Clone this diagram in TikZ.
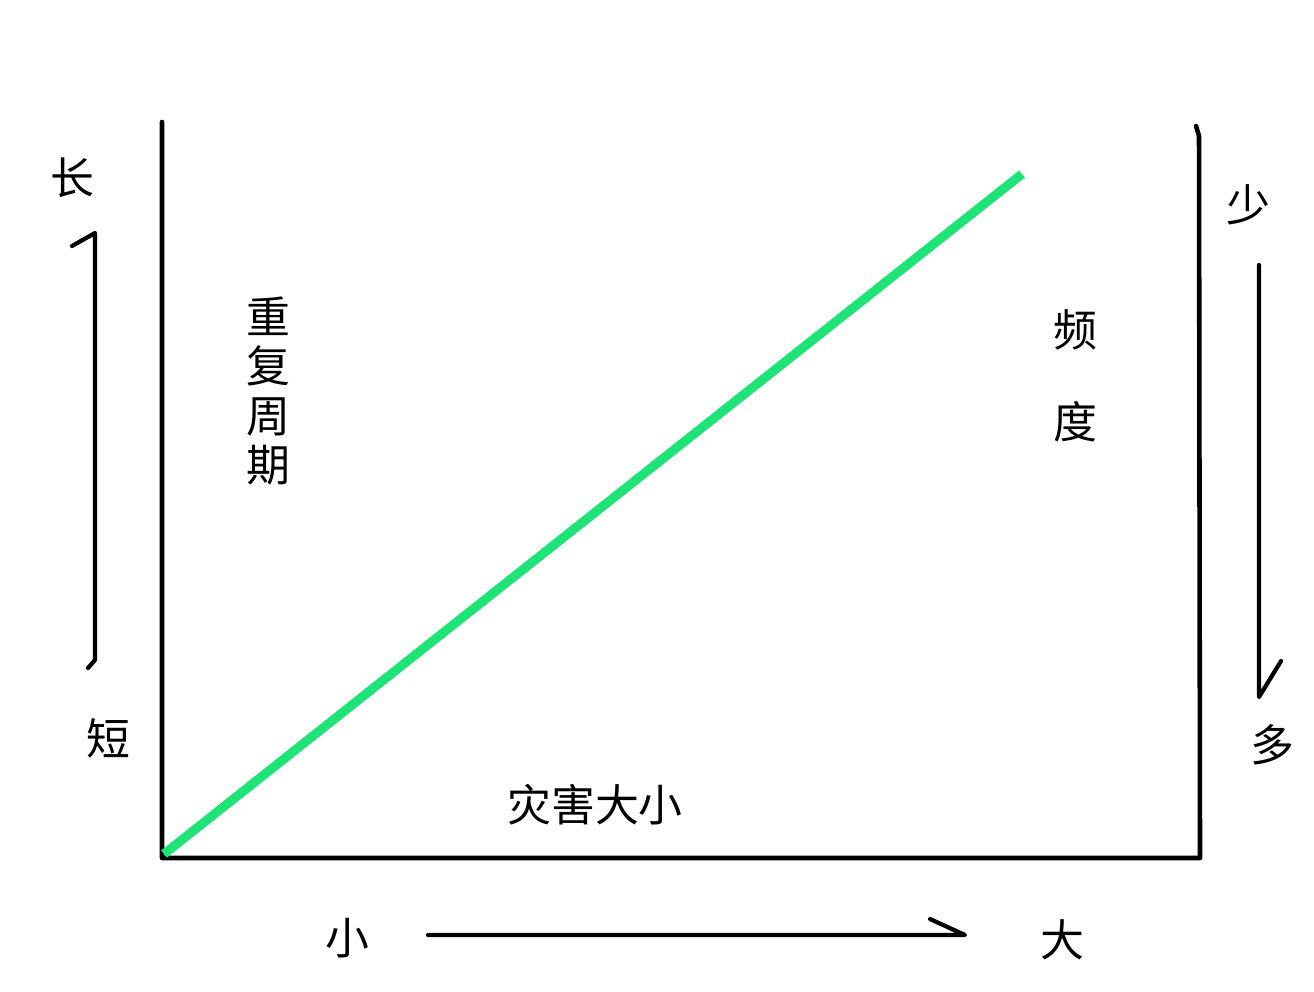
\documentclass[tikz,border=0pt]{standalone}
\usepackage{fontspec}
\newfontfamily\cjk{Noto Sans CJK SC}
\definecolor{lgreen}{RGB}{30,228,120}
\begin{document}
\begin{tikzpicture}[x=0.02cm,y=-0.02cm,
  thin/.style={line width=2.4pt, black, line cap=round, line join=round},
  lbl/.style={font=\cjk\fontsize{25}{27}\selectfont, inner sep=0pt}]
\useasboundingbox[fill=white] (0,0) rectangle (1314,991);
% axes
\coordinate (tl) at (162,122);
\coordinate (bl) at (162,858);
\coordinate (br) at (1200,858);
\coordinate (tr) at (1196,126);
\draw[thin, line width=2.6pt] (tl) -- (bl) -- (br) -- (1199,136) -- (tr);
% green line
\coordinate (g0) at (164,854);
\coordinate (g1) at (1022,174);
\draw[lgreen, line width=5.2pt] (g0) -- (g1);
% left bracket
\coordinate (lb0) at (72,246);
\coordinate (lb1) at (95,233);
\coordinate (lb2) at (95,660);
\coordinate (lb3) at (88,668);
\draw[thin] (lb0) -- (lb1) -- (lb2) -- (lb3);
% right arrow
\coordinate (ra0) at (1259,265);
\coordinate (ra1) at (1259,697);
\coordinate (ra2) at (1281,661);
\draw[thin] (ra0) -- (ra1) -- (ra2);
% bottom arrow
\coordinate (ba0) at (428,935);
\coordinate (ba1) at (965,935);
\coordinate (ba2) at (930,919);
\draw[thin] (ba0) -- (ba1) -- (ba2);
% labels
\node[lbl] (chang) at (72,178) {长};
\node[lbl] (duan) at (108,738) {短};
\node[lbl, align=center] (zq) at (268,391) {重\\[1pt]复\\[1pt]周\\[1pt]期};
\node[lbl] (pin) at (1075,330) {频};
\node[lbl] (du) at (1075,422) {度};
\node[lbl] (shao) at (1248,205) {少};
\node[lbl] (duo) at (1272,745) {多};
\node[lbl] (zh) at (595,805) {灾害大小};
\node[lbl] (xiao) at (347,938) {小};
\node[lbl] (da) at (1062,940) {大};
\end{tikzpicture}
\end{document}
